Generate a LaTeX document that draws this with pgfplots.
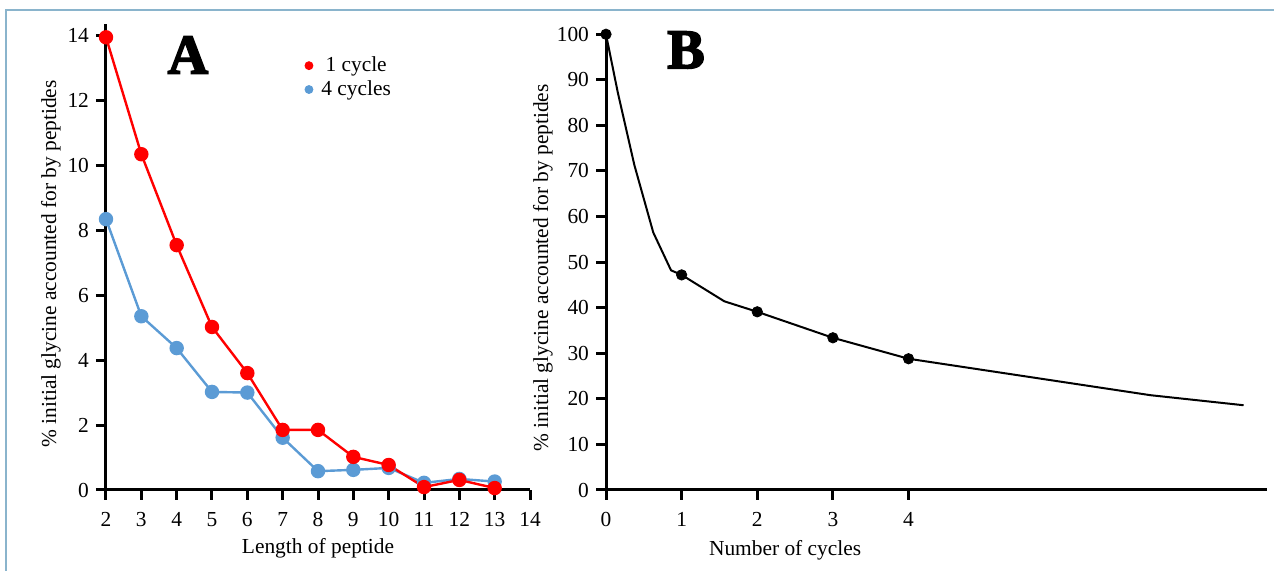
\documentclass[border=0pt]{standalone}
\usepackage{fontspec}
\setmainfont{Liberation Serif}
\newfontface\heavyfont{Liberation Serif Bold}[FakeBold=3]
\usepackage{pgfplots}
\pgfplotsset{compat=1.18}

\definecolor{cyc1}{RGB}{255,0,0}
\definecolor{cyc4}{RGB}{91,155,213}
\definecolor{framecol}{RGB}{138,180,204}

\pgfplotsset{
  panel/.style={
    scale only axis,
    axis x line=bottom,
    axis y line=left,
    axis line style={-, line width=1.5pt},
    every tick/.style={black, line width=1.5pt},
    major tick length=5pt,
    tick align=outside,
    font=\fontsize{10.7}{12}\selectfont,
    /pgf/number format/assume math mode=true,
    xticklabel style={yshift=-2.5pt},
    every axis y label/.style={at={(axis description cs:#1,0.485)}, rotate=90, anchor=center},
    clip=false,
  },
}

\begin{document}
\begin{tikzpicture}

% panel A: length of peptide
\begin{axis}[
    panel=-0.1297,
    at={(0pt,0pt)}, anchor=south west,
    width=212pt, height=233pt,
    xmin=2, xmax=14, ymin=0, ymax=14.35,
    xtick={2,3,...,14},
    ytick={0,2,...,14},
    xlabel={Length of peptide},
    ylabel={\% initial glycine accounted for by peptides},
    every axis x label/.style={at={(axis description cs:0.5,0)}, anchor=center, yshift=-29pt},
    legend image code/.code={\draw[#1] plot coordinates {(0.1cm,0cm)}; \path (0.1cm+4pt,0cm);},
    legend style={draw=none, fill=none, at={(axis cs:7.45,13.6)}, anchor=north west,
                  row sep=-1pt, font=\fontsize{10.7}{12}\selectfont},
]
\addlegendimage{only marks, mark=*, cyc1, mark size=2pt}
\addlegendimage{only marks, mark=*, cyc4, mark size=2pt}

% 4 cycles
\addplot[cyc4, line width=1.2pt, mark=*, mark size=3pt] coordinates {
(2,8.34) (3,5.35) (4,4.37) (5,3.02) (6,3.00) (7,1.61)
(8,0.58) (9,0.62) (10,0.68) (11,0.22) (12,0.34) (13,0.26)
};
% 1 cycle
\addplot[cyc1, line width=1.2pt, mark=*, mark size=3pt] coordinates {
(2,13.94) (3,10.34) (4,7.54) (5,5.02) (6,3.60) (7,1.85)
(8,1.85) (9,1.02) (10,0.77) (11,0.09) (12,0.31) (13,0.06)
};
\legend{1 cycle, 4 cycles}
\end{axis}

% panel B: number of cycles
\begin{axis}[
    panel=-0.0953,
    at={(250pt,0pt)}, anchor=south west,
    width=330.5pt, height=229pt,
    xmin=0, xmax=8.74, ymin=0, ymax=100.5,
    xtick={0,1,2,3,4},
    ytick={0,10,...,100},
    xlabel={Number of cycles},
    ylabel={\% initial glycine accounted for by peptides},
    every axis x label/.style={at={(axis description cs:0.271,0)}, anchor=center, yshift=-30pt},
]
\addplot[black, line width=1pt] coordinates {
(0,100) (0.155,87.3) (0.375,71.3) (0.625,56.5) (0.86,48.2) (1,47.2)
(1.565,41.4) (2,39.1) (3,33.4) (4,28.8) (7.2,20.8) (8.43,18.6)
};
\addplot[black, only marks, mark=*, mark size=2.6pt] coordinates {
(0,100) (1,47.2) (2,39.1) (3,33.4) (4,28.8)
};
\end{axis}

\node[font=\heavyfont\fontsize{28}{30}\selectfont] at (41pt,217.5pt) {A};
\node[font=\heavyfont\fontsize{28}{30}\selectfont] at (290pt,220pt) {B};

\draw[framecol, line width=1pt] (-49.75pt,-40.5pt) -- (-49.75pt,239.75pt) -- (584pt,239.75pt);

\pgfresetboundingbox
\path[use as bounding box] (-53pt,-40.5pt) rectangle (584pt,245pt);
\end{tikzpicture}
\end{document}
